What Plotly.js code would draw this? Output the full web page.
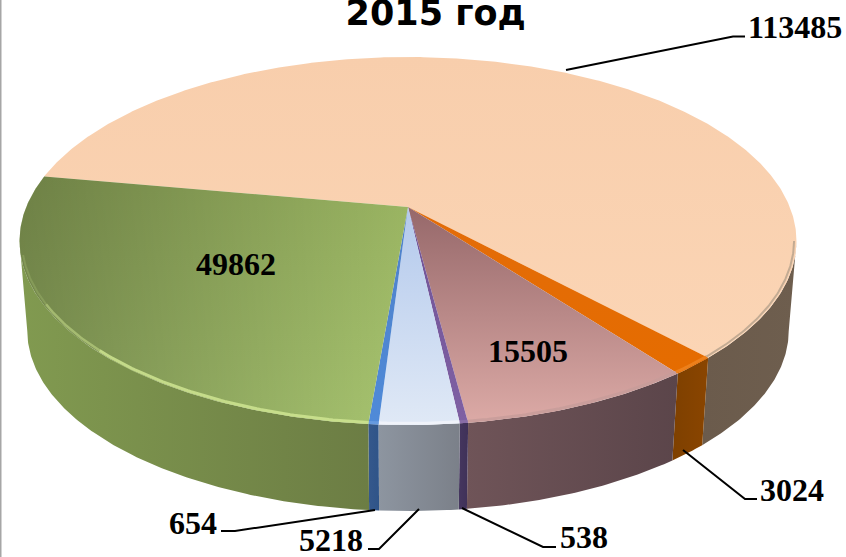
<!DOCTYPE html>
<html><head><meta charset="utf-8">
<script src="https://cdn.plot.ly/plotly-3.0.1.min.js"></script>
<style>html,body{margin:0;padding:0;background:#fff}</style></head>
<body><div id="chart" style="width:846px;height:557px"></div>
<script>
// Data, clockwise from the peach slice
const categories = ['A','B','C','D','E','F','G'];
const values = [113485, 3024, 15505, 538, 5218, 654, 49862];
const titleText = '2015 год';
// Styling per slice
const topStart = ['#f8ceac','#e36c09','#96686a','#6f5396','#b3c9ec','#4f81c9','#98b260'];
const topEnd   = ['#fbd5b5','#e56c00','#dcaaa6','#7f60a3','#e0e9f6','#4f8ad8','#a8c570'];
const sideLeft = ['#6b5b4c','#7e4000','#6f5458','#45365f','#8d95a0','#35588c','#819a50'];
const sideRight= ['#6e5e4e','#8a4500','#5b454a','#3f3158','#7b8089','#2f5488','#6c7d44'];
const rimColor = ['#b9a38d','#ee8420','#c79c9a','#8a70a8','#f2f5fa','#6a9ce0','#cfe592'];

// Projection of the disc onto the page
const cx=408, cy=207, Rx=381.8, Ry=177.7, k=0.1848, depth=90.4, shrink=0.98, startDeg=280.2;
function project(deg, r, bottom){
  const a=deg*Math.PI/180, u=r*Math.sin(a), v=-r*Math.cos(a), w=1-k*v, s=bottom?shrink:1;
  return [cx+s*Rx*u/w, cy+(bottom?depth:0)+s*Ry*v/w];
}
function arc(a,b,r,bottom){
  const n=Math.max(2,Math.ceil(Math.abs(b-a)*2)), pts=[];
  for(let i=0;i<=n;i++) pts.push(project(a+(b-a)*i/n,r,bottom));
  return pts;
}
const total=values.reduce((s,v)=>s+v,0);
let angle=startDeg;
const slices=values.map(v=>{const a=angle,b=angle+v/total*360;angle=b;return {a,b};});
const poly=(pts,extra)=>Object.assign({
  x:pts.map(p=>p[0]),y:pts.map(p=>p[1]),mode:'lines',line:{width:0},fill:'toself',
  showlegend:false,hoverinfo:'skip'},extra);
const grad=(type,c0,c1,start,stop)=>({type,colorscale:[[0,c0],[1,c1]],start,stop});

// visible wall range of a slice: only the part between the two silhouette angles
const silhouetteRight=460.7, silhouetteLeft=619.3;
const wallA=(s,i)=>i===0?silhouetteRight:s.a;
const wallB=(s,i)=>i===6?silhouetteLeft:s.b;

const traces=[];
slices.forEach((s,i)=>{
  const a=wallA(s,i), e=wallB(s,i);
  const t=arc(a,e,1,false), b=arc(e,a,1,true), pts=t.concat(b);
  const xs=pts.map(p=>p[0]);
  traces.push(poly(pts.concat([pts[0]]),{fillgradient:grad('horizontal',sideLeft[i],sideRight[i],Math.min(...xs),Math.max(...xs))}));
});
// top faces
slices.forEach((s,i)=>{
  const pts=[[cx,cy]].concat(arc(s.a,s.b,1,false),[[cx,cy]]);
  const ys=pts.map(p=>p[1]), xs=pts.map(p=>p[0]);
  traces.push(poly(pts,{fillgradient:grad('vertical',topStart[i],topEnd[i],Math.min(...ys),Math.max(...ys))}));
  if(i===6){ // the darker upper-left wash of the green slice
    traces.push(poly(pts,{fillgradient:grad('horizontal','rgba(0,0,0,0.28)','rgba(0,0,0,0)',Math.min(...xs),Math.max(...xs))}));
  }
});
// soft rim along the front edge
const rimLine=(a,e,color,width,opacity)=>{
  const pts=arc(a,e,0.994,false);
  traces.push({x:pts.map(p=>p[0]),y:pts.map(p=>p[1]),mode:'lines',line:{color,width},opacity,showlegend:false,hoverinfo:'skip'});
};
slices.forEach((s,i)=>{
  const a=wallA(s,i);
  if(i===6){
    rimLine(a,585,rimColor[i],3,0.85);
    rimLine(585,600,rimColor[i],2.5,0.5);
    rimLine(600,615,rimColor[i],2,0.2);
  } else {
    rimLine(a,s.b,rimColor[i],i===0?2:3,0.85);
  }
});

const leaders=[
 'M566,70L733,36.5L745,36.5','M683,450L745,499L757,499','M462,508L543,547L556,547',
 'M419,509L379,549L368,549','M375,510L235,531L221,531'];
const shapes=leaders.map(path=>({type:'path',path,xref:'x',yref:'y',line:{color:'#000',width:2}}));
shapes.push({type:'line',xref:'x',yref:'y',x0:0.5,x1:0.5,y0:0,y1:557,line:{color:'#a6a6a6',width:2}});

const serif={family:'"Liberation Serif",serif',size:32,color:'#000'};
const ann=(i,x,y)=>({x,y,text:'<b>'+values[i]+'</b>',showarrow:false,font:serif,xanchor:'center',yanchor:'middle'});
const annotations=[ann(0,795,27),ann(6,236,264),ann(2,528,351),ann(1,792,490),ann(3,584,537),ann(4,331,540),ann(5,193,523)];

Plotly.newPlot('chart',traces,{
  width:846,height:557,margin:{l:0,r:0,t:0,b:0},paper_bgcolor:'#fff',plot_bgcolor:'#fff',showlegend:false,
  title:{text:'<b>'+titleText+'</b>',x:0.515,xanchor:'center',y:1.0,yanchor:'top',yref:'container',pad:{t:0},
    font:{family:'"DejaVu Sans",sans-serif',size:35,color:'#000'}},
  xaxis:{range:[0,846],visible:false,fixedrange:true},
  yaxis:{range:[557,0],visible:false,fixedrange:true},
  shapes,annotations
},{displayModeBar:false,staticPlot:true});
</script></body></html>
